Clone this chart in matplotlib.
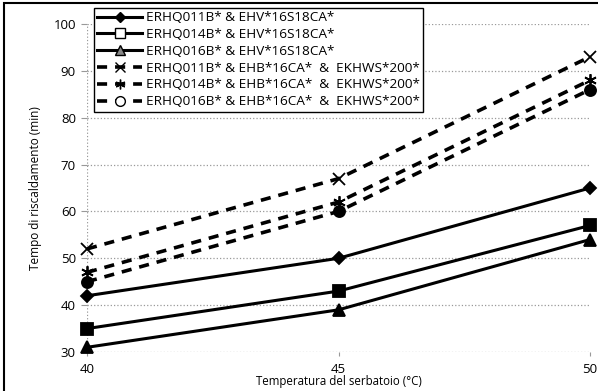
import matplotlib.pyplot as plt
from matplotlib.lines import Line2D
from matplotlib.patches import Rectangle

plt.rcParams['font.family'] = ['Open Sans', 'DejaVu Sans']

# Data
temperatures = [40, 45, 50]
labels = [
    "ERHQ011B* & EHV*16S18CA*",
    "ERHQ014B* & EHV*16S18CA*",
    "ERHQ016B* & EHV*16S18CA*",
    "ERHQ011B* & EHB*16CA*  &  EKHWS*200*",
    "ERHQ014B* & EHB*16CA*  &  EKHWS*200*",
    "ERHQ016B* & EHB*16CA*  &  EKHWS*200*",
]
erhq011_ehv = [42, 50, 65]
erhq014_ehv = [35, 43, 57]
erhq016_ehv = [31, 39, 54]
erhq011_ehb = [52, 67, 93]
erhq014_ehb = [47, 62, 88]
erhq016_ehb = [45, 60, 86]
yticks = [30, 40, 50, 60, 70, 80, 90, 100]

series = [erhq011_ehv, erhq014_ehv, erhq016_ehv, erhq011_ehb, erhq014_ehb, erhq016_ehb]
markers = ['D', 's', '^', 'x', (6, 2, 0), 'o']
msizes = [6, 8, 8, 9, 9, 8]
leg_sizes = [5.5, 7, 6.5, 7, 7, 7]
legend_faces = ['black', 'white', '#888888', 'black', 'black', 'white']
dashed = [False, False, False, True, True, True]

fig = plt.figure(figsize=(5.98, 3.91), dpi=100)
ax = fig.add_axes([87 / 598, 1 - 352 / 391, 503 / 598, 328 / 391])

handles = []
for vals, m, ms, lms, lf, d, lab in zip(series, markers, msizes, leg_sizes, legend_faces, dashed, labels):
    ls = (0, (2.8, 2.2)) if d else '-'
    lw = 2.6 if d else 2.2
    ax.plot(temperatures, vals, color='black', linestyle=ls, linewidth=lw,
            marker=m, markersize=ms, markerfacecolor='black', markeredgecolor='black',
            markeredgewidth=1.3, clip_on=False, zorder=3)
    handles.append(Line2D([], [], color='black', linestyle=ls, linewidth=lw, marker=m,
                          markersize=lms, markerfacecolor=lf, markeredgecolor='black',
                          markeredgewidth=1.0, label=lab))

ax.set_xlim(40, 50)
ax.set_ylim(30, 100)
ax.set_xticks([40, 45, 50])
ax.set_yticks(yticks)
for s in ax.spines.values():
    s.set_visible(False)
ax.grid(axis='y', color='#999999', linestyle=':', linewidth=0.9)
ax.axvline(40, color='#999999', linestyle=':', linewidth=0.9, zorder=1)
ax.tick_params(axis='y', length=4, color='#999999', labelsize=9.5, pad=4)
ax.tick_params(axis='x', length=3, color='#999999', labelsize=9.5, pad=5)

ax.set_xlabel("Temperatura del serbatoio (°C)", fontsize=8.3, labelpad=-1)
ax.set_ylabel("Tempo di riscaldamento (min)", fontsize=8.5, labelpad=8)

leg = fig.legend(handles=handles, loc='upper left', bbox_to_anchor=(94 / 598, 1 - 8 / 391),
                 fontsize=9.7, frameon=True, fancybox=False, handlelength=3.3,
                 labelspacing=0.28, borderpad=0.25, handletextpad=0.3, borderaxespad=0)
leg.get_frame().set_edgecolor('black')
leg.get_frame().set_linewidth(1.0)
leg.get_frame().set_alpha(1)

fig.patches.append(Rectangle((4 / 598, -0.1), 1.2, 1.1 - 3 / 391, transform=fig.transFigure,
                             fill=False, edgecolor='black', linewidth=1.5))

fig.savefig('out.png', dpi=100)
